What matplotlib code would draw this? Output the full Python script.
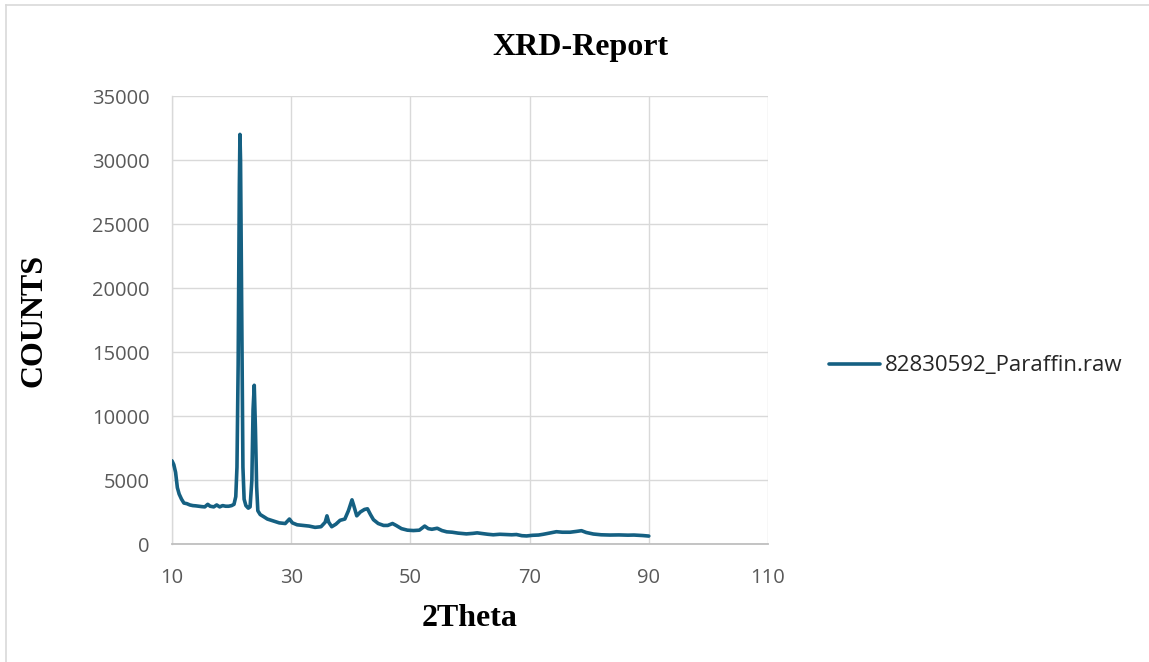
import matplotlib
matplotlib.use("Agg")
import matplotlib.pyplot as plt
from matplotlib.lines import Line2D

# Diffraction pattern: 2-theta (degrees) and detector counts
two_theta = [
    10.0, 10.3, 10.6, 10.9, 11.2, 11.6, 12.0, 12.5, 13.0, 13.5, 14.0, 14.5,
    15.0, 15.5, 16.0, 16.4, 17.0, 17.5, 18.0, 18.5, 19.0, 19.5, 20.0, 20.4,
    20.7, 20.9, 21.1, 21.3, 21.4, 21.5, 21.7, 21.9, 22.1, 22.4, 22.8, 23.1,
    23.4, 23.6, 23.8, 24.0, 24.2, 24.4, 24.8, 25.5, 26.0, 27.0, 28.0, 29.0,
    29.7, 30.2, 31.0, 32.0, 33.0, 34.0, 35.0, 35.7, 36.0, 36.3, 36.8, 37.5,
    38.2, 39.0, 39.6, 40.2, 40.5, 41.0, 41.6, 42.3, 42.8, 43.3, 43.8, 44.6,
    45.5, 46.2, 47.0, 47.6, 48.5, 49.5, 50.5, 51.5, 52.4, 53.0, 53.6, 54.5,
    55.3, 56.1, 57.0, 58.0, 59.4, 60.5, 61.2, 62.0, 63.0, 63.9, 65.0, 66.0,
    67.0, 67.8, 68.7, 69.5, 70.5, 71.5, 72.3, 73.3, 74.5, 75.5, 76.8, 77.8,
    78.7, 79.5, 80.7, 82.0, 83.5, 85.0, 86.5, 87.5, 89.0, 90.0,
]
counts = [
    6500, 6200, 5600, 4400, 3900, 3500, 3200, 3150, 3050, 3000, 2980, 2950,
    2920, 2900, 3100, 2950, 2900, 3050, 2900, 3000, 2950, 2950, 3000, 3100,
    3700, 6000, 14000, 28000, 32000, 30000, 18000, 6000, 3500, 3000, 2800, 2900,
    5000, 10500, 12400, 9000, 4500, 2600, 2300, 2100, 1950, 1800, 1650, 1600,
    1950, 1650, 1500, 1450, 1400, 1300, 1350, 1700, 2200, 1700, 1350, 1550,
    1850, 1950, 2600, 3450, 3000, 2200, 2500, 2700, 2750, 2300, 1900, 1600,
    1450, 1450, 1600, 1450, 1200, 1080, 1050, 1080, 1400, 1200, 1150, 1230,
    1050, 950, 920, 850, 790, 830, 870, 820, 760, 720, 760, 740,
    720, 740, 650, 630, 680, 700, 760, 850, 960, 920, 920, 980,
    1040, 900, 780, 720, 700, 710, 690, 700, 660, 620,
]
series_name = "82830592_Paraffin.raw"
x_ticks = [10, 30, 50, 70, 90, 110]
y_ticks = [0, 5000, 10000, 15000, 20000, 25000, 30000, 35000]

W, H = 1149, 662
fig = plt.figure(figsize=(W / 100, H / 100), dpi=100)
fig.patch.set_facecolor("white")

# Outer chart-area border (top and left edges)
border = "#d9d9d9"
fig.add_artist(Line2D([6 / W, 1.0], [1 - 5 / H, 1 - 5 / H], transform=fig.transFigure,
                      color=border, lw=1.2))
fig.add_artist(Line2D([6 / W, 6 / W], [0.0, 1 - 5 / H], transform=fig.transFigure,
                      color=border, lw=1.2))

ax = fig.add_axes([172 / W, (H - 544) / H, (768 - 172) / W, (544 - 96) / H])
line_color = "#156082"
ax.plot(two_theta, counts, color=line_color, lw=2.6, solid_joinstyle="round",
        solid_capstyle="round", label=series_name, zorder=3)

ax.set_xlim(10, 110)
ax.set_ylim(0, 35000)
ax.set_xticks(x_ticks)
ax.set_yticks(y_ticks)

tick_font = {"family": "Open Sans", "size": 14.5}
ax.set_xticklabels([str(v) for v in x_ticks], fontdict=tick_font, color="#595959")
ax.set_yticklabels([str(v) for v in y_ticks], fontdict=tick_font, color="#595959")
ax.tick_params(axis="both", length=0)
ax.tick_params(axis="x", pad=17)
ax.tick_params(axis="y", pad=16)

ax.grid(True, color="#d9d9d9", lw=1.0)
ax.set_axisbelow(True)
for side in ("top", "right"):
    ax.spines[side].set_visible(False)
ax.spines["left"].set_color("#d9d9d9")
ax.spines["left"].set_linewidth(1.0)
ax.spines["bottom"].set_color("#bfbfbf")
ax.spines["bottom"].set_linewidth(1.3)

serif_bold = {"family": "Liberation Serif", "weight": "bold"}
fig.text(580 / W, 1 - 55 / H, "XRD-Report", ha="center", va="baseline",
         fontsize=23, color="black", **serif_bold)
fig.text(470 / W, 1 - 626 / H, "2Theta", ha="center", va="baseline",
         fontsize=23, color="black", **serif_bold)
fig.text(34 / W, 1 - 320 / H, "COUNTS", ha="center", va="center", rotation=90,
         fontsize=23, color="black", **serif_bold)

leg = fig.legend(loc="center left", bbox_to_anchor=(829 / W, 1 - 366 / H),
                 frameon=False, borderpad=0, borderaxespad=0,
                 handlelength=2.3, handletextpad=0.22,
                 prop={"family": "Open Sans", "size": 16})
for t in leg.get_texts():
    t.set_color("#262626")

fig.savefig("out.png", dpi=100, facecolor="white")
